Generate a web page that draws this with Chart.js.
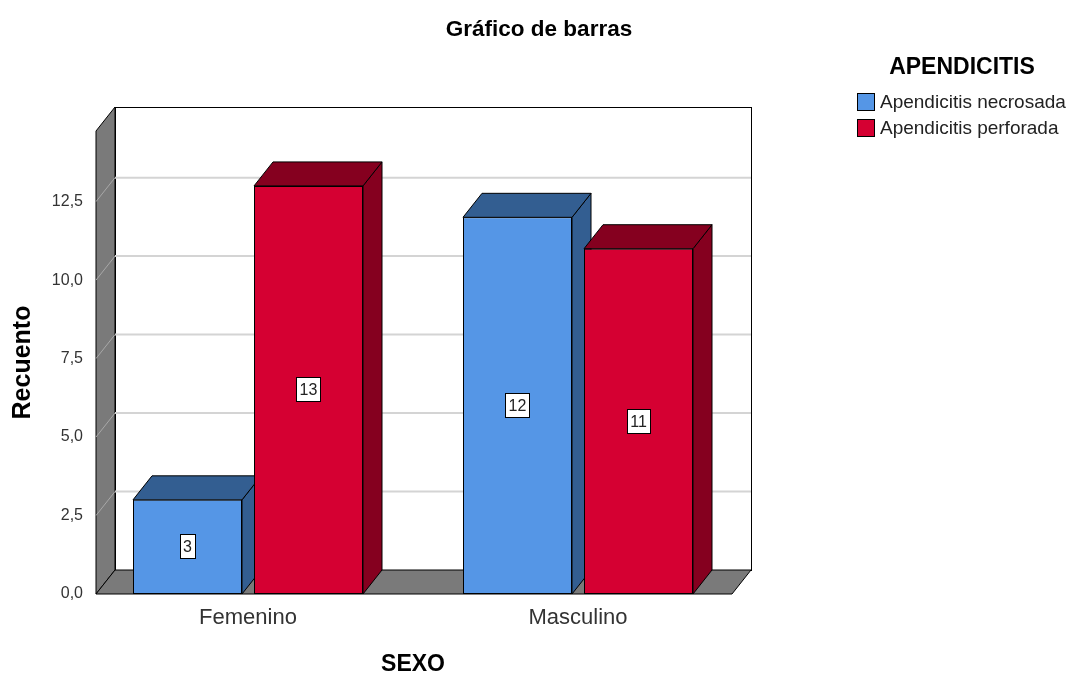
<!DOCTYPE html>
<html>
<head>
<meta charset="utf-8">
<script src="https://cdn.jsdelivr.net/npm/chart.js@4.4.1/dist/chart.umd.min.js"></script>
<style>
html,body{margin:0;padding:0;background:#fff;}
#wrap{width:1071px;height:673px;position:relative;}
</style>
</head>
<body>
<div id="wrap"><canvas id="c" width="1071" height="673"></canvas></div>
<script>
const categories = ['Femenino', 'Masculino'];
const necrosada = [3, 12];
const perforada = [13, 11];
const seriesNames = ['Apendicitis necrosada', 'Apendicitis perforada'];
const yTicks = [0, 2.5, 5, 7.5, 10, 12.5];
const yMax = 14.75;
const chartTitle = 'Gráfico de barras';
const legendTitle = 'APENDICITIS';

const FRONT = ['#5596E6', '#D50032'];
const DARK = ['#335E91', '#85001F'];
const DX = 19, DY = -24;
const FONT = '"Liberation Sans", Arial, sans-serif';

const threeD = {
  id: 'threeD',
  beforeDatasetsDraw(chart) {
    const ctx = chart.ctx, a = chart.chartArea, ys = chart.scales.y;
    const L = a.left + 13, R = a.right - 11; // front plane x-range
    const bottom = ys.getPixelForValue(0), top = ys.getPixelForValue(yMax);
    ctx.save();
    ctx.lineWidth = 1;
    ctx.strokeStyle = '#000';
    // back wall
    ctx.fillStyle = '#fff';
    ctx.fillRect(L + DX, top + DY, R - L, bottom - top);
    ctx.strokeRect(L + DX + 0.5, top + DY + 0.5, R - L, bottom - top);
    // left wall
    ctx.fillStyle = '#7A7A7A';
    ctx.beginPath();
    ctx.moveTo(L, top); ctx.lineTo(L + DX, top + DY);
    ctx.lineTo(L + DX, bottom + DY); ctx.lineTo(L, bottom); ctx.closePath();
    ctx.fill(); ctx.stroke();
    // floor
    ctx.beginPath();
    ctx.moveTo(L, bottom); ctx.lineTo(L + DX, bottom + DY);
    ctx.lineTo(R + DX, bottom + DY); ctx.lineTo(R, bottom); ctx.closePath();
    ctx.fill(); ctx.stroke();
    // gridlines
    yTicks.forEach(v => {
      if (v === 0) return;
      const y = ys.getPixelForValue(v);
      ctx.strokeStyle = '#D4D4D4';
      ctx.lineWidth = 2;
      ctx.beginPath();
      ctx.moveTo(L + DX, y + DY); ctx.lineTo(R + DX, y + DY); ctx.stroke();
      ctx.strokeStyle = '#A8A8A8';
      ctx.lineWidth = 1;
      ctx.beginPath();
      ctx.moveTo(L, y); ctx.lineTo(L + DX, y + DY); ctx.stroke();
    });
    // bar side and top faces
    ctx.strokeStyle = '#000';
    ctx.lineWidth = 1;
    for (let i = 0; i < categories.length; i++) {
      chart.data.datasets.forEach((ds, d) => {
        const el = chart.getDatasetMeta(d).data[i];
        const x0 = el.x - el.width / 2, x1 = el.x + el.width / 2;
        const yt = el.y, yb = el.base;
        ctx.fillStyle = DARK[d];
        ctx.beginPath();
        ctx.moveTo(x1, yt); ctx.lineTo(x1 + DX, yt + DY);
        ctx.lineTo(x1 + DX, yb + DY); ctx.lineTo(x1, yb); ctx.closePath();
        ctx.fill(); ctx.stroke();
        ctx.beginPath();
        ctx.moveTo(x0, yt); ctx.lineTo(x0 + DX, yt + DY);
        ctx.lineTo(x1 + DX, yt + DY); ctx.lineTo(x1, yt); ctx.closePath();
        ctx.fill(); ctx.stroke();
      });
    }
    ctx.restore();
  },
  afterDatasetsDraw(chart) {
    const ctx = chart.ctx;
    ctx.save();
    ctx.font = '16px ' + FONT;
    ctx.textAlign = 'center';
    ctx.textBaseline = 'middle';
    chart.data.datasets.forEach((ds, d) => {
      chart.getDatasetMeta(d).data.forEach((el, i) => {
        const txt = String(ds.data[i]);
        const cy = (el.y + el.base) / 2;
        const w = Math.round(ctx.measureText(txt).width + 7), h = 25;
        const bx = Math.round(el.x - w / 2), by = Math.round(cy - h / 2);
        ctx.fillStyle = '#fff';
        ctx.fillRect(bx, by, w, h);
        ctx.strokeStyle = '#000';
        ctx.lineWidth = 1;
        ctx.strokeRect(bx + 0.5, by + 0.5, w - 1, h - 1);
        ctx.fillStyle = '#222';
        ctx.fillText(txt, el.x, cy + 1);
      });
    });
    // chart title
    ctx.font = 'bold 22.5px ' + FONT;
    ctx.fillStyle = '#000';
    ctx.textAlign = 'center';
    ctx.fillText(chartTitle, 539, 30);
    // legend
    const lx = 857, ly = 93;
    ctx.font = 'bold 23px ' + FONT;
    ctx.fillText(legendTitle, 962, 68);
    ctx.font = '19px ' + FONT;
    ctx.textAlign = 'left';
    chart.data.datasets.forEach((ds, d) => {
      const y = ly + d * 26;
      ctx.fillStyle = FRONT[d];
      ctx.fillRect(lx, y, 18, 18);
      ctx.strokeStyle = '#000';
      ctx.strokeRect(lx + 0.5, y + 0.5, 17, 17);
      ctx.fillStyle = '#222';
      ctx.fillText(ds.label, lx + 23, y + 10);
    });
    ctx.restore();
  }
};

new Chart(document.getElementById('c'), {
  type: 'bar',
  data: {
    labels: categories,
    datasets: [
      { label: seriesNames[0], data: necrosada, backgroundColor: FRONT[0] },
      { label: seriesNames[1], data: perforada, backgroundColor: FRONT[1] }
    ]
  },
  options: {
    responsive: false,
    animation: false,
    events: [],
    datasets: {
      bar: {
        borderColor: '#000',
        borderWidth: 1,
        borderSkipped: false,
        categoryPercentage: 242 / 330,
        barPercentage: 109 / 121
      }
    },
    layout: { padding: { top: 131, left: 8, right: 328, bottom: 0 } },
    plugins: {
      legend: { display: false },
      tooltip: { enabled: false },
      title: { display: false }
    },
    scales: {
      x: {
        grid: { display: false, drawTicks: false },
        border: { display: false },
        ticks: { color: '#333', font: { family: FONT, size: 22 }, padding: 11 },
        title: { display: true, text: 'SEXO', color: '#000', font: { family: FONT, size: 23, weight: 'bold' }, padding: { top: 0, bottom: -5 } },
        afterFit: s => { s.height = 79; }
      },
      y: {
        min: 0,
        max: yMax,
        grid: { display: false, drawTicks: false },
        border: { display: false },
        afterBuildTicks: s => { s.ticks = yTicks.map(v => ({ value: v })); },
        ticks: {
          color: '#333',
          font: { family: FONT, size: 16 },
          padding: 0,
          callback: v => v.toFixed(1).replace('.', ',')
        },
        title: { display: true, text: 'Recuento', color: '#000', font: { family: FONT, size: 25, weight: 'bold' }, padding: 0 },
        afterFit: s => { s.width = 75; }
      }
    }
  },
  plugins: [threeD]
});
</script>
</body>
</html>
